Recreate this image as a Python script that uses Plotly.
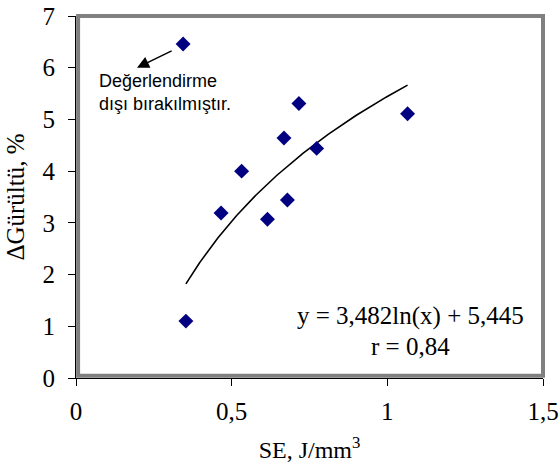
import numpy as np
import plotly.graph_objects as go

# Measured specific energy (J/mm^3) and change in noise (%)
se_values = [0.344, 0.353, 0.466, 0.532, 0.615, 0.668, 0.679, 0.716, 0.773, 1.065]
noise_values = [6.46, 1.10, 3.19, 4.00, 3.07, 4.64, 3.44, 5.31, 4.44, 5.11]

# Logarithmic fit y = a*ln(x) + b (the first point is excluded from the fit)
fit_a = 3.482
fit_b = 5.445
fit_r = "0,84"

x_ticks = [0, 0.5, 1, 1.5]
y_ticks = [0, 1, 2, 3, 4, 5, 6, 7]

serif = "Liberation Serif, Times New Roman, serif"
sans = "Liberation Sans, Arial, sans-serif"

fit_x = np.linspace(min(se_values[1:]), max(se_values[1:]), 200)
fit_y = fit_a * np.log(fit_x) + fit_b

fig = go.Figure()

fig.add_trace(go.Scatter(
    x=fit_x, y=fit_y, mode="lines",
    line=dict(color="black", width=1.6),
    hoverinfo="skip", showlegend=False,
))

fig.add_trace(go.Scatter(
    x=se_values, y=noise_values, mode="markers",
    marker=dict(symbol="diamond", size=11.5, color="#000080",
                line=dict(width=0)),
    showlegend=False,
))

# Gray plot-area frame, sitting just inside the black axis lines
fig.add_shape(
    type="rect", xref="paper", yref="paper",
    x0=0.0045, y0=0.006, x1=1.0, y1=1.0,
    line=dict(color="#808080", width=4), layer="below",
)

# Arrow pointing away from the excluded point
fig.add_annotation(
    x=0.196, y=6.0, xref="x", yref="y",
    ax=0.312, ay=6.34, axref="x", ayref="y",
    text="", showarrow=True,
    arrowhead=2, arrowsize=1.6, arrowwidth=1.5, arrowcolor="black",
)
fig.add_annotation(
    x=0.0675, y=5.53, xref="x", yref="y",
    text="Değerlendirme<br>dışı bırakılmıştır.",
    showarrow=False, xanchor="left", yanchor="middle", align="left",
    font=dict(family=sans, size=18, color="black"),
)

# Fit equation and correlation coefficient
fig.add_annotation(
    x=1.076, y=1.20, xref="x", yref="y",
    text=f"y = {str(fit_a).replace('.', ',')}ln(x) + {str(fit_b).replace('.', ',')}",
    showarrow=False, xanchor="center", yanchor="middle",
    font=dict(family=serif, size=25, color="black"),
)
fig.add_annotation(
    x=1.076, y=0.60, xref="x", yref="y",
    text=f"r = {fit_r}",
    showarrow=False, xanchor="center", yanchor="middle",
    font=dict(family=serif, size=25, color="black"),
)

fig.update_layout(
    width=560, height=463,
    margin=dict(l=76, r=17, t=16, b=85, autoexpand=False),
    paper_bgcolor="white", plot_bgcolor="white",
    separators=",.",
    font=dict(family=serif, size=25, color="black"),
    xaxis=dict(
        range=[0, 1.5], tickvals=x_ticks, automargin=False,
        showgrid=False, zeroline=False,
        showline=True, linecolor="black", linewidth=1,
        ticks="outside", ticklen=7, tickcolor="black", tickwidth=1,
        ticklabelstandoff=4,
        tickfont=dict(family=serif, size=25, color="black"),
        title=dict(text="SE, J/mm<sup>3</sup>", standoff=17,
                   font=dict(family=serif, size=24, color="black")),
    ),
    yaxis=dict(
        range=[0, 7], tickvals=y_ticks, automargin=False,
        showgrid=False, zeroline=False,
        showline=True, linecolor="black", linewidth=1,
        ticks="outside", ticklen=7, tickcolor="black", tickwidth=1,
        ticklabelstandoff=8,
        tickfont=dict(family=serif, size=25, color="black"),
        title=dict(text="ΔGürültü, %", standoff=10,
                   font=dict(family=serif, size=25, color="black")),
    ),
)

fig.write_html("out.html")
